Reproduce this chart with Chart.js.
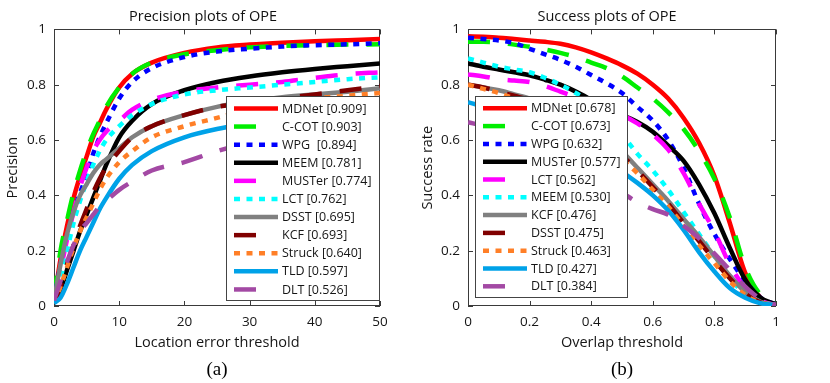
<!DOCTYPE html>
<html>
<head>
<meta charset="utf-8">
<script src="https://cdn.jsdelivr.net/npm/chart.js@4.4.1/dist/chart.umd.min.js"></script>
<style>
  body { margin: 0; background: #fff; width: 830px; height: 383px; overflow: hidden; }
  .panel { position: absolute; top: 0; width: 415px; height: 383px; }
</style>
</head>
<body>
<div class="panel" style="left:0"><canvas id="precChart" width="415" height="383"></canvas></div>
<div class="panel" style="left:415px"><canvas id="succChart" width="415" height="383"></canvas></div>
<script>
// ---- precision plot (a) ----
const precThresholds = [0, 1, 2, 3, 4, 5, 6, 7, 8, 10, 12, 15, 20, 25, 30, 35, 40, 45, 50];
const precLabels = ["MDNet [0.909]", "C-COT [0.903]", "WPG  [0.894]", "MEEM [0.781]", "MUSTer [0.774]",
  "LCT [0.762]", "DSST [0.695]", "KCF [0.693]", "Struck [0.640]", "TLD [0.597]", "DLT [0.526]"];
const precMDNet  = [0.02, 0.17, 0.29, 0.39, 0.47, 0.54, 0.61, 0.66, 0.71, 0.79, 0.84, 0.88, 0.915, 0.935, 0.945, 0.952, 0.957, 0.961, 0.965];
const precCCOT   = [0.03, 0.20, 0.31, 0.41, 0.49, 0.56, 0.62, 0.67, 0.72, 0.79, 0.84, 0.88, 0.91, 0.925, 0.935, 0.94, 0.943, 0.945, 0.946];
const precWPG    = [0.02, 0.15, 0.25, 0.34, 0.41, 0.47, 0.55, 0.61, 0.66, 0.75, 0.81, 0.86, 0.90, 0.92, 0.93, 0.938, 0.943, 0.946, 0.95];
const precMEEM   = [0.01, 0.06, 0.13, 0.20, 0.27, 0.33, 0.39, 0.45, 0.51, 0.61, 0.67, 0.73, 0.78, 0.81, 0.83, 0.845, 0.857, 0.867, 0.877];
const precMUSTer = [0.02, 0.13, 0.24, 0.34, 0.43, 0.50, 0.56, 0.60, 0.63, 0.67, 0.71, 0.745, 0.775, 0.79, 0.80, 0.81, 0.825, 0.838, 0.845];
const precLCT    = [0.02, 0.10, 0.20, 0.30, 0.38, 0.45, 0.51, 0.56, 0.60, 0.65, 0.69, 0.73, 0.765, 0.78, 0.79, 0.80, 0.81, 0.82, 0.827];
const precDSST   = [0.02, 0.15, 0.26, 0.34, 0.40, 0.44, 0.48, 0.51, 0.53, 0.57, 0.61, 0.65, 0.69, 0.72, 0.74, 0.755, 0.765, 0.775, 0.787];
const precKCF    = [0.01, 0.07, 0.15, 0.22, 0.29, 0.35, 0.41, 0.46, 0.50, 0.56, 0.61, 0.65, 0.69, 0.72, 0.735, 0.75, 0.765, 0.78, 0.795];
const precStruck = [0.01, 0.07, 0.14, 0.21, 0.27, 0.32, 0.37, 0.42, 0.46, 0.52, 0.56, 0.61, 0.65, 0.68, 0.71, 0.73, 0.75, 0.76, 0.77];
const precTLD    = [0.01, 0.03, 0.08, 0.14, 0.20, 0.25, 0.30, 0.35, 0.39, 0.46, 0.51, 0.56, 0.61, 0.64, 0.66, 0.68, 0.69, 0.70, 0.71];
const precDLT    = [0.02, 0.09, 0.16, 0.22, 0.27, 0.30, 0.33, 0.36, 0.38, 0.42, 0.45, 0.49, 0.52, 0.56, 0.59, 0.61, 0.625, 0.637, 0.645];

// ---- success plot (b) ----
const succThresholds = [0, 0.05, 0.1, 0.15, 0.2, 0.25, 0.3, 0.35, 0.4, 0.45, 0.5, 0.55, 0.6, 0.65, 0.7, 0.75, 0.8, 0.85, 0.9, 0.95, 1];
const succLabels = ["MDNet [0.678]", "C-COT [0.673]", "WPG [0.632]", "MUSTer [0.577]", "LCT [0.562]",
  "MEEM [0.530]", "KCF [0.476]", "DSST [0.475]", "Struck [0.463]", "TLD [0.427]", "DLT [0.384]"];
const succMDNet  = [0.975, 0.973, 0.97, 0.965, 0.96, 0.955, 0.948, 0.935, 0.917, 0.895, 0.87, 0.84, 0.80, 0.75, 0.68, 0.59, 0.47, 0.30, 0.12, 0.03, 0.005];
const succCCOT   = [0.955, 0.955, 0.952, 0.945, 0.937, 0.927, 0.915, 0.90, 0.88, 0.86, 0.83, 0.79, 0.75, 0.70, 0.64, 0.56, 0.46, 0.32, 0.14, 0.04, 0.005];
const succWPG    = [0.97, 0.965, 0.96, 0.95, 0.93, 0.91, 0.89, 0.865, 0.835, 0.805, 0.77, 0.72, 0.67, 0.60, 0.50, 0.37, 0.26, 0.17, 0.09, 0.03, 0.005];
const succMUSTer = [0.877, 0.865, 0.855, 0.845, 0.834, 0.818, 0.80, 0.775, 0.745, 0.71, 0.69, 0.665, 0.63, 0.58, 0.525, 0.44, 0.335, 0.21, 0.095, 0.03, 0.005];
const succLCT    = [0.837, 0.83, 0.82, 0.815, 0.81, 0.795, 0.775, 0.755, 0.73, 0.71, 0.69, 0.66, 0.62, 0.565, 0.48, 0.37, 0.27, 0.15, 0.065, 0.02, 0.003];
const succMEEM   = [0.895, 0.88, 0.865, 0.855, 0.845, 0.825, 0.80, 0.77, 0.735, 0.68, 0.62, 0.55, 0.49, 0.42, 0.34, 0.26, 0.18, 0.10, 0.045, 0.015, 0.003];
const succKCF    = [0.80, 0.79, 0.78, 0.765, 0.75, 0.73, 0.71, 0.685, 0.655, 0.62, 0.56, 0.50, 0.44, 0.38, 0.315, 0.25, 0.18, 0.11, 0.05, 0.015, 0.003];
const succDSST   = [0.80, 0.79, 0.775, 0.76, 0.745, 0.725, 0.70, 0.675, 0.64, 0.60, 0.545, 0.49, 0.43, 0.37, 0.30, 0.235, 0.165, 0.10, 0.045, 0.012, 0.003];
const succStruck = [0.80, 0.785, 0.77, 0.75, 0.73, 0.705, 0.68, 0.65, 0.62, 0.58, 0.53, 0.48, 0.42, 0.36, 0.29, 0.22, 0.155, 0.09, 0.04, 0.012, 0.003];
const succTLD    = [0.737, 0.72, 0.70, 0.68, 0.66, 0.635, 0.61, 0.58, 0.55, 0.52, 0.485, 0.445, 0.40, 0.345, 0.275, 0.195, 0.125, 0.065, 0.03, 0.01, 0.003];
const succDLT    = [0.665, 0.65, 0.63, 0.61, 0.59, 0.565, 0.54, 0.51, 0.48, 0.445, 0.41, 0.375, 0.35, 0.33, 0.29, 0.245, 0.19, 0.13, 0.07, 0.025, 0.003];

const precSeries = [precMDNet, precCCOT, precWPG, precMEEM, precMUSTer, precLCT, precDSST, precKCF, precStruck, precTLD, precDLT];
const succSeries = [succMDNet, succCCOT, succWPG, succMUSTer, succLCT, succMEEM, succKCF, succDSST, succStruck, succTLD, succDLT];

// line look by rank (same in both plots)
const rankColors = ["#ff0000", "#00ee00", "#0000ff", "#000000", "#ff00ff", "#00ffff",
  "#808080", "#800000", "#ff7f27", "#00a2e8", "#a349a4"];
const rankKinds = ["solid", "dash", "dot", "solid", "dash", "dot", "solid", "dash", "dot", "solid", "dash"];
const dashFor = { solid: [], dash: [22, 18], dot: [6, 6.5] };
const legendDashFor = { solid: [], dash: [22, 40], dot: [6, 6.5] };

const FONT = "'Open Sans', 'DejaVu Sans', sans-serif";
const TEXT = "#161616";

// box + inward ticks, MATLAB style
const frameTicks = {
  id: "frameTicks",
  beforeDatasetsDraw(chart) {
    const { ctx, chartArea: a } = chart;
    const x = chart.scales.x, y = chart.scales.y;
    ctx.save();
    ctx.strokeStyle = "#3a3a3a";
    ctx.lineWidth = 1;
    ctx.strokeRect(Math.round(a.left) + 0.5, Math.round(a.top) + 0.5,
      Math.round(a.right - a.left) - 1, Math.round(a.bottom - a.top) - 1);
    ctx.beginPath();
    x.ticks.forEach(t => {
      const px = Math.round(x.getPixelForValue(t.value)) + 0.5;
      ctx.moveTo(px, a.bottom); ctx.lineTo(px, a.bottom - 5);
      ctx.moveTo(px, a.top); ctx.lineTo(px, a.top + 5);
    });
    y.ticks.forEach(t => {
      const py = Math.round(y.getPixelForValue(t.value)) + 0.5;
      ctx.moveTo(a.left, py); ctx.lineTo(a.left + 5, py);
      ctx.moveTo(a.right, py); ctx.lineTo(a.right - 5, py);
    });
    ctx.stroke();
    ctx.restore();
  }
};

// legend box drawn inside the plot area
const insideLegend = {
  id: "insideLegend",
  afterDatasetsDraw(chart, args, opts) {
    const { ctx, chartArea: a } = chart;
    const left = a.left + opts.dx, top = a.top + opts.dy;
    ctx.save();
    ctx.fillStyle = "#fff";
    ctx.fillRect(left, top, opts.w, opts.h);
    ctx.strokeStyle = "#444";
    ctx.lineWidth = 1;
    ctx.strokeRect(Math.round(left) + 0.5, Math.round(top) + 0.5, opts.w, opts.h);
    ctx.font = "12.5px " + FONT;
    ctx.textBaseline = "middle";
    chart.data.datasets.forEach((ds, i) => {
      const cy = top + 3 + opts.rowH * (i + 0.5);
      ctx.beginPath();
      ctx.strokeStyle = ds.borderColor;
      ctx.lineWidth = ds.borderWidth;
      ctx.lineCap = "butt";
      ctx.setLineDash(legendDashFor[rankKinds[i]]);
      ctx.moveTo(left + 8, cy);
      ctx.lineTo(left + 52, cy);
      ctx.stroke();
      ctx.setLineDash([]);
      ctx.fillStyle = TEXT;
      ctx.fillText(ds.label, left + 56, cy + 0.5);
    });
    ctx.restore();
  }
};

function makeChart(id, cfg) {
  const datasets = cfg.series.map((ys, i) => ({
    label: cfg.labels[i],
    data: cfg.xs.map((x, k) => ({ x: x, y: ys[k] })),
    borderColor: rankColors[i],
    borderWidth: 4.5,
    borderDash: dashFor[rankKinds[i]],
    borderCapStyle: "butt",
    borderJoinStyle: "round",
    pointRadius: 0,
    fill: false,
    cubicInterpolationMode: "monotone",
    order: cfg.series.length - i
  }));
  const tickText = v => String(+v.toFixed(1));
  return new Chart(document.getElementById(id), {
    type: "line",
    data: { datasets: datasets },
    plugins: [frameTicks, insideLegend],
    options: {
      responsive: false,
      animation: false,
      events: [],
      layout: { padding: { left: 0, right: cfg.padRight, top: 0, bottom: 0 } },
      plugins: {
        legend: { display: false },
        tooltip: { enabled: false },
        title: {
          display: true, text: cfg.title, color: "#111",
          font: { family: FONT, size: 14.5, weight: "normal" },
          padding: { top: 8, bottom: 4 }
        },
        subtitle: {
          display: true, text: cfg.tag, position: "bottom", fullSize: false, color: "#000",
          font: { family: "'Liberation Serif', 'Times New Roman', serif", size: 19, weight: "normal" },
          padding: { top: 2.6, bottom: 1.6 }
        },
        insideLegend: cfg.legendBox
      },
      scales: {
        x: {
          type: "linear", min: 0, max: cfg.xMax,
          afterFit(s) { s.height = 50; },
          grid: { display: false, drawTicks: false },
          border: { display: false },
          ticks: { stepSize: cfg.xStep, padding: 8, maxRotation: 0, color: TEXT,
            font: { family: FONT, size: 13.5 }, callback: tickText },
          title: { display: true, text: cfg.xTitle, color: TEXT, font: { family: FONT, size: 14.5 }, padding: { top: 4, bottom: 4 } }
        },
        y: {
          type: "linear", min: 0, max: 1,
          afterFit(s) { s.width = cfg.yWidth; },
          grid: { display: false, drawTicks: false },
          border: { display: false },
          ticks: { stepSize: 0.2, padding: 8, color: TEXT, font: { family: FONT, size: 13.5 },
            callback: tickText },
          title: { display: true, text: cfg.yTitle, color: TEXT, font: { family: FONT, size: 14.5 }, padding: { top: 4, bottom: 4 } }
        },
        spacer: {
          type: "linear", position: "right", display: true,
          afterFit(s) { s.width = cfg.spacer; },
          grid: { display: false, drawTicks: false },
          border: { display: false },
          ticks: { display: false }
        }
      }
    }
  });
}

makeChart("precChart", {
  xs: precThresholds, series: precSeries, labels: precLabels,
  title: "Precision plots of OPE", tag: "(a)",
  xTitle: "Location error threshold", yTitle: "Precision",
  xMax: 50, xStep: 10, yWidth: 54, padRight: 9, spacer: 26,
  legendBox: { dx: 172, dy: 67, w: 153, h: 204, rowH: 18.1 }
});

makeChart("succChart", {
  xs: succThresholds, series: succSeries, labels: succLabels,
  title: "Success plots of OPE", tag: "(b)",
  xTitle: "Overlap threshold", yTitle: "Success rate",
  xMax: 1, xStep: 0.2, yWidth: 53, padRight: 31, spacer: 23,
  legendBox: { dx: 7, dy: 67, w: 152, h: 201, rowH: 17.8 }
});
</script>
</body>
</html>
